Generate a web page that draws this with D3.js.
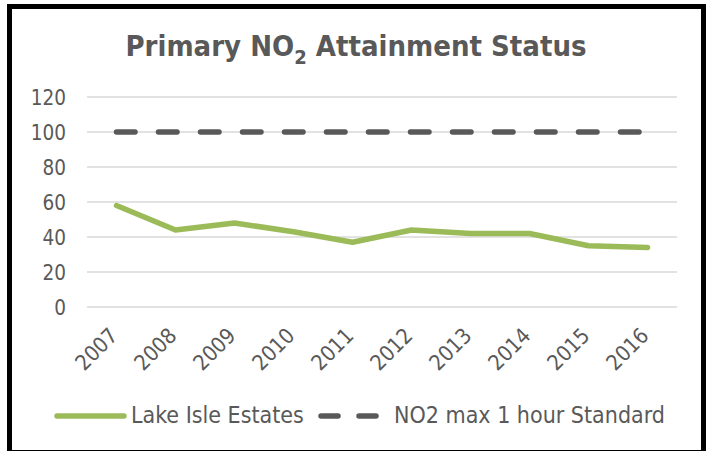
<!DOCTYPE html>
<html>
<head>
<meta charset="utf-8">
<script src="https://cdn.jsdelivr.net/npm/d3@7"></script>
<style>
  html, body { margin: 0; padding: 0; background: #fff; }
  svg { display: block; }
  text { font-family: "DejaVu Sans Condensed", "DejaVu Sans", sans-serif; font-stretch: condensed; fill: #595959; }
</style>
</head>
<body>
<svg id="chart" width="709" height="451"></svg>
<script>
const years = ["2007","2008","2009","2010","2011","2012","2013","2014","2015","2016"];
const lakeIsle = [58, 44, 48, 43, 37, 44, 42, 42, 35, 34];
const no2Standard = [100, 100, 100, 100, 100, 100, 100, 100, 100, 100];
const yTicks = [0, 20, 40, 60, 80, 100, 120];
const seriesNames = ["Lake Isle Estates", "NO2 max 1 hour Standard"];

const svg = d3.select("#chart");
const W = 709, H = 451;
svg.append("rect").attr("x", 0).attr("y", 0).attr("width", W).attr("height", H).attr("fill", "#fff");

// frame
svg.append("rect").attr("x", 9.5).attr("y", 6.5).attr("width", 694).attr("height", 446)
  .attr("fill", "none").attr("stroke", "#000").attr("stroke-width", 5);

const plot = { left: 87, right: 677, top: 97, bottom: 307 };
const x = d3.scalePoint().domain(years).range([plot.left, plot.right]).padding(0.5);
const y = d3.scaleLinear().domain([0, 120]).range([plot.bottom, plot.top]);

// title
const title = svg.append("text").attr("x", 356).attr("y", 56).attr("text-anchor", "middle")
  .attr("font-size", 29).attr("font-weight", "bold");
title.append("tspan").text("Primary NO");
title.append("tspan").attr("font-size", 20).attr("dy", 8).text("2");
title.append("tspan").attr("dy", -8).text(" Attainment Status");

// gridlines
svg.append("g").selectAll("line").data(yTicks).join("line")
  .attr("x1", plot.left).attr("x2", plot.right)
  .attr("y1", d => y(d)).attr("y2", d => y(d))
  .attr("stroke", "#d9d9d9").attr("stroke-width", 1.3);

// y axis labels
const yAxis = d3.axisLeft(y).tickValues(yTicks).tickSize(0).tickPadding(0);
const yg = svg.append("g").attr("transform", "translate(66,0)").call(yAxis);
yg.select(".domain").remove();
yg.attr("font-family", null);
yg.selectAll("text").attr("font-size", 20.5).attr("fill", "#595959").attr("dy", "0.36em");

// x axis labels
const xAxis = d3.axisBottom(x).tickSize(0).tickPadding(0);
const xg = svg.append("g").call(xAxis);
xg.select(".domain").remove();
xg.attr("font-family", null);
xg.selectAll(".tick").attr("transform", d => `translate(${x(d) + 2.5},337)`);
xg.selectAll("text").attr("font-size", 21.5).attr("fill", "#595959")
  .attr("y", 0).attr("dy", 0).attr("text-anchor", "end").attr("transform", "rotate(-45)");

// standard line (dashed)
const line = d3.line().x((d, i) => x(years[i])).y(d => y(d));
svg.append("path").datum(no2Standard).attr("d", line)
  .attr("fill", "none").attr("stroke", "#595959").attr("stroke-width", 5.5)
  .attr("stroke-linecap", "round").attr("stroke-dasharray", "18.5 23.5");

// Lake Isle line
svg.append("path").datum(lakeIsle).attr("d", line)
  .attr("fill", "none").attr("stroke", "#9bbb59").attr("stroke-width", 5.5)
  .attr("stroke-linecap", "round").attr("stroke-linejoin", "round");

// legend
const lg = svg.append("g");
lg.append("line").attr("x1", 57).attr("x2", 124).attr("y1", 416).attr("y2", 416)
  .attr("stroke", "#9bbb59").attr("stroke-width", 5.5).attr("stroke-linecap", "round");
lg.append("text").attr("x", 131).attr("y", 423).attr("font-size", 23).text(seriesNames[0]);
lg.append("line").attr("x1", 321).attr("x2", 380).attr("y1", 416).attr("y2", 416)
  .attr("stroke", "#595959").attr("stroke-width", 5.5).attr("stroke-linecap", "round")
  .attr("stroke-dasharray", "17 21");
lg.append("text").attr("x", 394).attr("y", 423).attr("font-size", 23).text(seriesNames[1]);
</script>
</body>
</html>
